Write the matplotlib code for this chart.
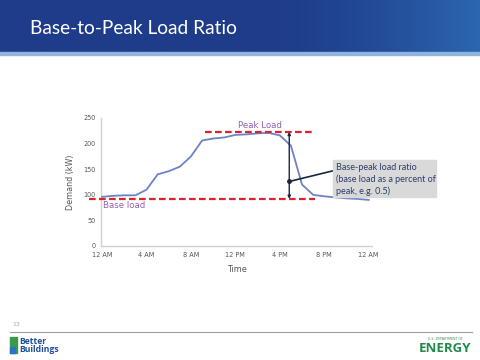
import matplotlib
matplotlib.use("Agg")
import matplotlib.pyplot as plt
import numpy as np
from matplotlib.patches import Rectangle

# ---- data ----
hours = list(range(25))
demand = [96, 98, 99, 99, 110, 140, 146, 155, 175, 206, 210, 212, 217, 218, 220,
          221, 216, 196, 120, 100, 97, 95, 93, 92, 90]
tick_hours = [0, 4, 8, 12, 16, 20, 24]
tick_labels = ["12 AM", "4 AM", "8 AM", "12 PM", "4 PM", "8 PM", "12 AM"]
y_ticks = [0, 50, 100, 150, 200, 250]
peak_load = 223
base_load = 92
peak_span = (9.3, 18.9)
base_span = (-1.2, 19.2)
arrow_hour = 16.85
dot_value = 126
title = "Base-to-Peak Load Ratio"
callout = "Base-peak load ratio\n(base load as a percent of\npeak, e.g. 0.5)"

W, H = 480, 360
fig = plt.figure(figsize=(4.8, 3.6), dpi=100)
fig.patch.set_facecolor("white")

# ---- background overlay in pixel coordinates ----
bg = fig.add_axes([0, 0, 1, 1], zorder=0)
bg.set_xlim(0, W)
bg.set_ylim(H, 0)
bg.axis("off")
grad = np.linspace(0, 1, 256)
c1 = np.array([0x1e, 0x3c, 0x8a]) / 255
c2 = np.array([0x2c, 0x66, 0xb0]) / 255
t = np.clip((grad - 0.55) / 0.45, 0, 1) ** 1.5
img = (c1[None, :] * (1 - t[:, None]) + c2[None, :] * t[:, None])[None, :, :]
bg.imshow(img, extent=(0, W, 52, 0), aspect="auto", zorder=0)
bg.add_patch(Rectangle((0, 52), W, 3, color="#8fb4de", zorder=1))
bg.text(30, 28.5, title, color="white", fontsize=13.8, family="Lato",
        va="center", ha="left", zorder=2)
# footer
bg.text(12, 324, "13", color="#aaaaaa", fontsize=4.5, va="center")
bg.plot([10, 472], [332, 332], color="#a0a0a0", lw=0.8)
bg.add_patch(Rectangle((10, 337), 7, 16, color="#3a9a4a"))
bg.add_patch(Rectangle((10, 347), 5, 6, color="#2b72c2"))
bg.text(19, 341, "Better", color="#1f4e9a", fontsize=6.2, fontweight="bold",
        va="center", family="Open Sans")
bg.text(19, 349.5, "Buildings", color="#1f4e9a", fontsize=6.2, fontweight="bold",
        va="center", family="Open Sans")
bg.text(445, 338.5, "U.S. DEPARTMENT OF", color="#4a8a5a", fontsize=2.3,
        va="center", ha="center")
bg.text(445, 348, "ENERGY", color="#1f8a4a", fontsize=9.5, fontweight="bold",
        va="center", ha="center", family="Open Sans")

# ---- chart ----
ax = fig.add_axes([101 / W, 1 - 246 / H, (372 - 101) / W, (246 - 118) / H], zorder=2)
ax.set_facecolor("none")
ax.plot(hours, demand, color="#6a83c4", lw=1.3, zorder=3)
ax.set_xlim(-0.1, 24.3)
ax.set_ylim(0, 250)
ax.set_xticks(tick_hours)
ax.set_xticklabels(tick_labels)
ax.set_yticks(y_ticks)
for s in ["top", "right"]:
    ax.spines[s].set_visible(False)
for s in ["left", "bottom"]:
    ax.spines[s].set_color("#d0d0d0")
    ax.spines[s].set_linewidth(1.0)
ax.tick_params(length=0, labelsize=4.7, colors="#555555", pad=4)
ax.set_xlabel("Time", fontsize=5.8, color="#555555", labelpad=5)
ax.set_ylabel("Demand (kW)", fontsize=5.8, color="#555555", labelpad=6)

# reference lines
ax.plot(peak_span, [peak_load, peak_load], color="#e0202a", lw=1.6,
        ls=(0, (3, 1.5)), zorder=4, clip_on=False)
ax.plot(base_span, [base_load, base_load], color="#e0202a", lw=1.6,
        ls=(0, (3, 1.5)), zorder=4, clip_on=False)
ax.text(14.2, peak_load + 4, "Peak Load", color="#9060b0", fontsize=6.2,
        ha="center", va="bottom")
ax.text(0.1, base_load - 4, "Base load", color="#9060b0", fontsize=6.2,
        ha="left", va="top")

# double arrow
ax.annotate("", xy=(arrow_hour, peak_load), xytext=(arrow_hour, base_load),
            arrowprops=dict(arrowstyle="<|-|>", color="#1a2540", lw=1.0,
                            mutation_scale=4, shrinkA=0, shrinkB=0), zorder=5)
ax.plot([arrow_hour], [dot_value], "o", color="#1a2540", ms=2.5, zorder=6)
ax.plot([arrow_hour, 21.0], [dot_value, 148], color="#1a2540", lw=1.2, zorder=6,
        clip_on=False)

# callout box (pixel coords)
bg2 = fig.add_axes([0, 0, 1, 1], zorder=5)
bg2.set_xlim(0, W)
bg2.set_ylim(H, 0)
bg2.axis("off")
bg2.add_patch(Rectangle((333, 160), 103, 37, color="#d9d9d9"))
bg2.text(336, 179.5, callout, color="#2c3e6a", fontsize=6.5, family="Lato",
         va="center", ha="left", linespacing=1.3)

fig.savefig("out.png", dpi=100)
